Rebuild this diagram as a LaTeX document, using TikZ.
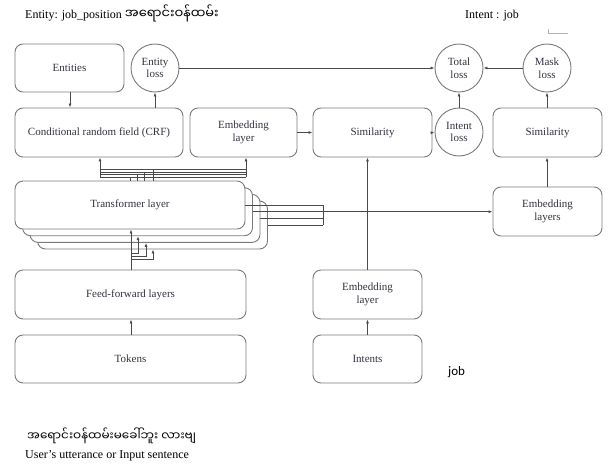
\documentclass[tikz,border=0pt]{standalone}
\usepackage{fontspec}
\setmainfont{Liberation Serif}
\newfontfamily\myafont[Script=Myanmar]{Noto Sans Myanmar UI}
\newfontfamily\calibfont{Carlito}
\usetikzlibrary{arrows.meta}
\definecolor{boxc}{HTML}{7A7A7A}
\definecolor{linec}{HTML}{4A4A4A}
\definecolor{txtc}{HTML}{33333F}
\begin{document}
\begin{tikzpicture}[x=1pt,y=-1pt,
  box/.style={draw=boxc, line width=0.9pt, rounded corners=8pt, fill=white, text=txtc,
    font=\fontsize{11}{12.5}\selectfont, align=center, inner sep=0pt},
  lossc/.style={circle, draw=boxc, line width=0.9pt, fill=white, text=txtc,
    font=\fontsize{11}{12.5}\selectfont, align=center, inner sep=0pt, minimum size=48pt},
  wire/.style={draw=linec, line width=0.8pt},
  arr/.style={wire, -{Latex[length=4pt,width=3pt]}},
  plain/.style={font=\fontsize{12}{14}\selectfont, anchor=base west, inner sep=0pt}]
\useasboundingbox (0,0) rectangle (613,471);

% texts
\node[plain] (hdr) at (25,18) {Entity: job\_position {\myafont\fontsize{13}{15}\selectfont အရောင်းဝန်ထမ်း}};
\node[plain] (intent) at (465,18) {Intent : job};
\node[plain, font=\calibfont\fontsize{13}{15}\selectfont] (job) at (448,375) {job};
\node[plain, font=\myafont\fontsize{12}{14}\selectfont] (mya) at (27,440) {အရောင်းဝန်ထမ်းမခေါ်ဘူး လားဗျ};
\node[plain] (user) at (25,458) {User's utterance or Input sentence};
\draw[draw=gray!60, line width=0.8pt] (548,29) -- (548,33) -- (568,33);

% top row
\node[box, minimum width=109pt, minimum height=48pt] (ent) at (69.5,68) {Entities};
\node[lossc] (eloss) at (155,68) {Entity\\loss};
\node[lossc] (tloss) at (459,68) {Total\\loss};
\node[lossc] (mloss) at (547,68) {Mask\\loss};

% second row
\node[box, minimum width=168pt, minimum height=49pt] (crf) at (99,132.5) {Conditional random field (CRF)};
\node[box, minimum width=107pt, minimum height=49pt] (emb1) at (243.5,132.5) {Embedding\\layer};
\node[box, minimum width=119pt, minimum height=49pt] (sim1) at (372.5,132.5) {Similarity};
\node[lossc] (iloss) at (459,132) {Intent\\loss};
\node[box, minimum width=109pt, minimum height=49pt] (sim2) at (547.5,132.5) {Similarity};

% transformer stack
\node[box, minimum width=230pt, minimum height=48pt] (tr3) at (152.5,225) {};
\node[box, minimum width=230pt, minimum height=48pt] (tr2) at (145,218.4) {};
\node[box, minimum width=230pt, minimum height=48pt] (tr1) at (137.5,211.7) {};
\node[box, minimum width=230pt, minimum height=48pt] (tr0) at (130,205) {Transformer layer};
\node[box, minimum width=109pt, minimum height=49pt] (embs) at (547.5,211.5) {Embedding\\layers};

% bottom rows
\node[box, minimum width=231pt, minimum height=49pt] (ff) at (130.5,294.5) {Feed-forward layers};
\node[box, minimum width=231pt, minimum height=48pt] (tok) at (130.5,359) {Tokens};
\node[box, minimum width=109pt, minimum height=49pt] (emb2) at (367.5,294.5) {Embedding\\layer};
\node[box, minimum width=109pt, minimum height=48pt] (ints) at (367.5,359) {Intents};

% simple connectors
\draw[arr] (ent.south -| 70,0) -- (crf.north -| 70,0);
\draw[arr] (crf.north -| eloss.south) -- (eloss.south);
\draw[arr] (eloss.east) -- (tloss.west);
\draw[arr] (mloss.west) -- (tloss.east);
\draw[arr] (iloss.north) -- (tloss.south);
\draw[arr] (sim2.north -| mloss.south) -- (mloss.south);
\draw[arr] (sim1.east) -- (iloss.west);
\draw[arr] (emb1.east) -- (sim1.west);
\draw[arr] (embs.north -| mloss.south) -- (sim2.south -| mloss.south);
\draw[arr] (emb2.north) -- (emb2.north |- sim1.south);
\draw[arr] (ints.north) -- (emb2.south);
\draw[arr] (tok.north -| 131,0) -- (ff.south -| 131,0);

% transformer outputs to embedding layers
\coordinate (bx) at (323,212);
\draw[wire] (tr0.east) -- (tr0.east -| bx);
\draw[wire] (tr2.east) -- (tr2.east -| bx);
\draw[wire] (tr3.east) -- (tr3.east -| bx);
\draw[wire] (tr0.east -| bx) -- (tr3.east -| bx);
\draw[arr] (tr1.east) -- (tr1.east -| embs.west);

% transformer to CRF / embedding (bus)
\foreach \yy in {169.3,172,174.7,177.3} \draw[wire, line width=0.55pt] (100,\yy) -- (246,\yy);
\draw[arr] (100,177.3) -- (crf.south -| 100,0);
\draw[arr] (246,177.3) -- (emb1.south -| 246,0);
\draw[wire, line width=0.55pt] (tr0.north -| 130,0) -- (130,177.3);
\draw[wire, line width=0.55pt] (tr0.north -| 137,0) -- (137,174.7);
\draw[wire, line width=0.55pt] (tr0.north -| 144,0) -- (144,172);
\draw[wire, line width=0.55pt] (tr0.north -| 153,0) -- (153,169.3);

% feed-forward to transformer stack
\draw[arr] (ff.north -| 131,0) -- (tr0.south -| 131,0);
\draw[arr] (131,253) -- (138,253) -- (tr1.south -| 138,0);
\draw[arr] (131,256) -- (146,256) -- (tr2.south -| 146,0);
\draw[arr] (131,259) -- (153,259) -- (tr3.south -| 153,0);
\end{tikzpicture}
\end{document}
